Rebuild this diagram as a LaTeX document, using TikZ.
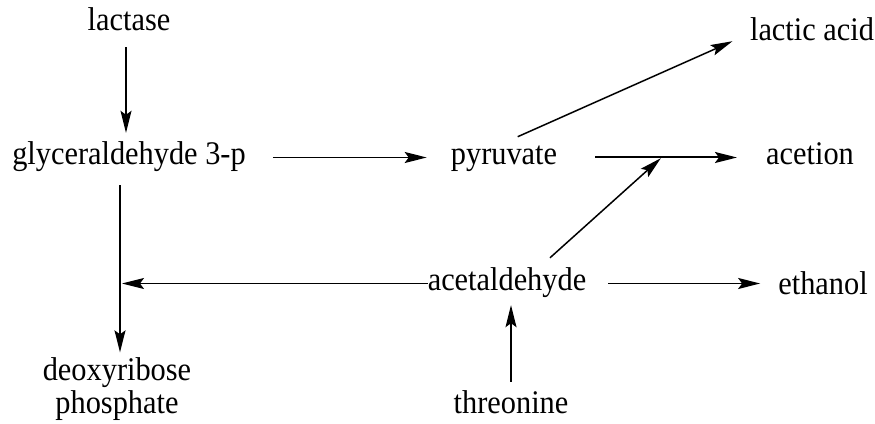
\documentclass[tikz,border=0pt]{standalone}
\usepackage{fontspec}
\setmainfont{Liberation Serif}[FakeStretch=0.92]
\usetikzlibrary{arrows.meta,calc}

\begin{document}
\begin{tikzpicture}[x=1pt,y=1pt,
  every node/.style={inner sep=0pt,font=\fontsize{33}{33}\selectfont},
  chem/.style={anchor=base,text height=22pt,text depth=7pt},
  rxn/.style={-{Stealth[length=22pt,width=11pt,inset=4pt]},line width=1.5pt}]
  \useasboundingbox (0,0) rectangle (875,423);
  \node[chem] (lactase) at (129,392) {lactase};
  \node[chem] (glyc) at (129,258) {glyceraldehyde 3-p};
  \node[chem] (pyr) at (504,258) {pyruvate};
  \node[chem] (lactic) at (812,382) {lactic acid};
  \node[chem] (acetion) at (810,258) {acetion};
  \node[chem] (acet) at (507,132) {acetaldehyde};
  \node[chem] (ethanol) at (823,128) {ethanol};
  \node[chem] (thr) at (511,10) {threonine};
  \node[align=center] (deoxy) at (117,34) {deoxyribose\\phosphate};
  \coordinate (gd) at ([xshift=-9pt]glyc.south);
  \coordinate (jn) at ($(pyr.east)!0.5!(acetion.west)$);
  % connectors
  \draw[rxn,shorten <=9pt,shorten >=10pt] ([xshift=-3pt]lactase.south) -- ([xshift=-3pt]glyc.north);
  \draw[rxn,shorten <=13pt,shorten >=5pt] (gd) -- (gd |- deoxy.north);
  \draw[rxn,line width=1.1pt,shorten >=2pt] (acet.west) -- (acet.west -| gd);
  \draw[rxn,shorten <=27pt,shorten >=24pt] (glyc.east) -- (pyr.west);
  \draw[rxn,line width=2pt,shorten <=38pt,shorten >=29pt] (pyr.east) -- (acetion.west);
  \draw[rxn,shorten <=15pt,shorten >=19pt] (pyr.north) -- (lactic.west);
  \draw[rxn,shorten >=1pt] ([xshift=43pt,yshift=11pt]acet.north) -- (jn);
  \draw[rxn,line width=1.8pt,shorten <=22pt,shorten >=18pt] (acet.east) -- (acet.east -| ethanol.west);
  \draw[rxn,shorten <=9pt,shorten >=7pt] (thr.north) -- (thr.north |- acet.south);
\end{tikzpicture}
\end{document}
